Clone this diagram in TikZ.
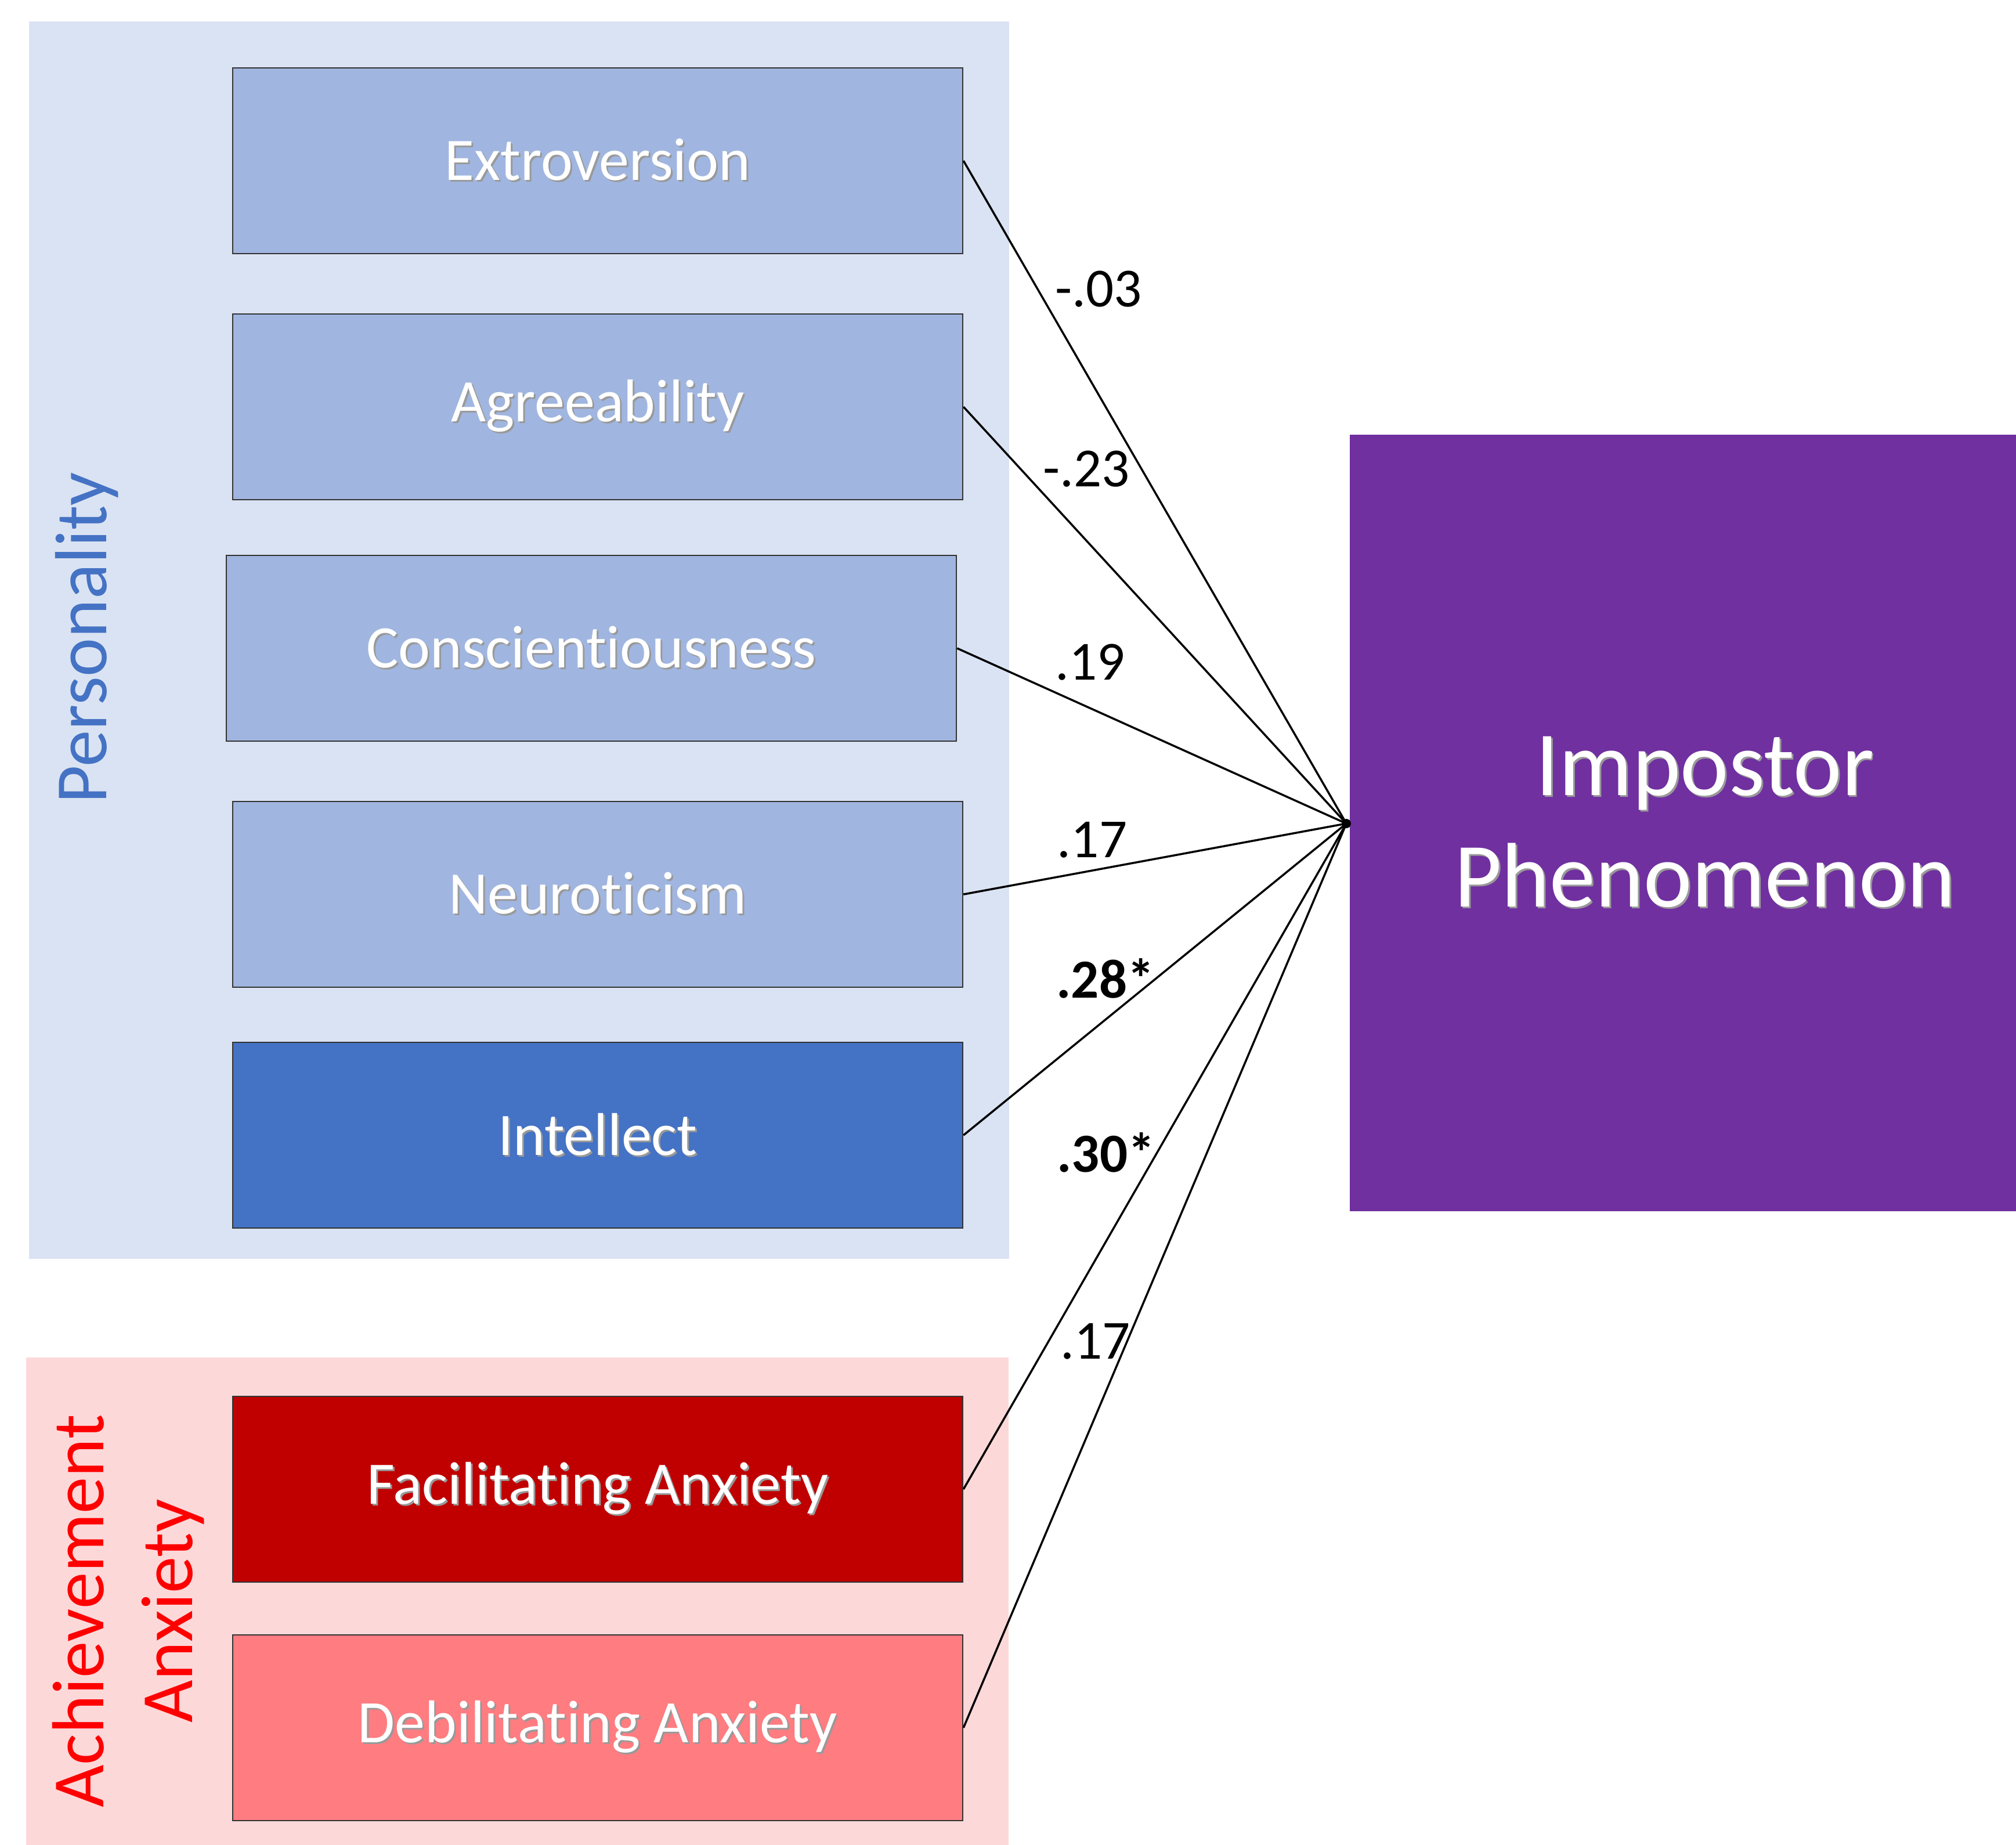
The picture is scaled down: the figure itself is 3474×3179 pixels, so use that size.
\documentclass[tikz,border=0pt]{standalone}
\usepackage{fontspec}
\setmainfont{Carlito}[Ligatures={NoCommon,NoContextual}, Contextuals=NoAlternate]
\usetikzlibrary{positioning}
\definecolor{bgblue}{HTML}{DAE3F3}
\definecolor{bgred}{HTML}{FDD8D9}
\definecolor{factorblue}{HTML}{A0B6E0}
\definecolor{intblue}{HTML}{4472C4}
\definecolor{facred}{HTML}{C00000}
\definecolor{debred}{HTML}{FF7C80}
\definecolor{impviolet}{HTML}{7030A0}
\newcommand{\shadowed}[1]{\makebox[0pt][l]{\hspace{0.6pt}\raisebox{-0.6pt}{\color{black!40}#1}}#1}

\begin{document}
\begin{tikzpicture}[x=0.2pt, y=-0.2pt,
  factor/.style = {draw=black!80, line width=0.5pt, inner sep=0pt,
    minimum width=251.6pt, minimum height=64pt,
    text=white, font=\fontsize{20.8}{25}\selectfont},
  group/.style = {inner sep=0pt, rotate=90, align=center,
    font=\fontsize{25.4}{30.5}\selectfont},
  weight/.style = {inner sep=0pt, font=\fontsize{19}{23}\selectfont},
  link/.style = {line width=0.7pt}]
  \useasboundingbox (0,0) rectangle (3474,3179);
  \fill[bgblue] (50,37) rectangle (1739,2169);
  \fill[bgred] (45,2339) rectangle (1738,3179);
  \node[group, text=intblue] (pers) at (150,1099) {Personality};
  \node[group, text=red] (anx) at (221,2776) {Achievement\\Anxiety};
  \node[factor, fill=factorblue] (ext) at (1030,277) {\shadowed{Extroversion}};
  \node[factor, fill=factorblue] (agr) at (1030,701) {\shadowed{Agreeability}};
  \node[factor, fill=factorblue] (con) at (1019,1117) {\shadowed{Conscientiousness}};
  \node[factor, fill=factorblue] (neu) at (1030,1541) {\shadowed{Neuroticism}};
  \node[factor, fill=intblue] (intl) at (1030,1956) {\shadowed{Intellect}};
  \node[factor, fill=facred] (fac) at (1030,2566) {\shadowed{Facilitating Anxiety}};
  \node[factor, fill=debred] (deb) at (1030,2977) {\shadowed{Debilitating Anxiety}};
  \node[fill=impviolet, inner sep=0pt, minimum width=244.8pt, minimum height=267.6pt,
    text=white, align=center, font=\fontsize{31.6}{38.5}\selectfont]
    (imp) at (2938,1418) {\shadowed{Impostor}\\\shadowed{Phenomenon}};
  \coordinate (hub) at (2320,1419);
  \draw[link] (ext.east) -- (hub);
  \draw[link] (agr.east) -- (hub);
  \draw[link] (con.east) -- (hub);
  \draw[link] (neu.east) -- (hub);
  \draw[link] (intl.east) -- (hub);
  \draw[link] (fac.east) -- (hub);
  \draw[link] (deb.east) -- (hub);
  \fill (hub) circle (1.6pt);
  \node[weight] (w1) at (1893,498) {-.03};
  \node[weight] (w2) at (1872,808) {-.23};
  \node[weight] (w3) at (1879,1141) {.19};
  \node[weight] (w4) at (1882,1447) {.17};
  \node[weight] (w5) at (1905,1686) {\textbf{.28*}};
  \node[weight] (w6) at (1906,1986) {\textbf{.30*}};
  \node[weight] (w7) at (1888,2311) {.17};
\end{tikzpicture}
\end{document}
